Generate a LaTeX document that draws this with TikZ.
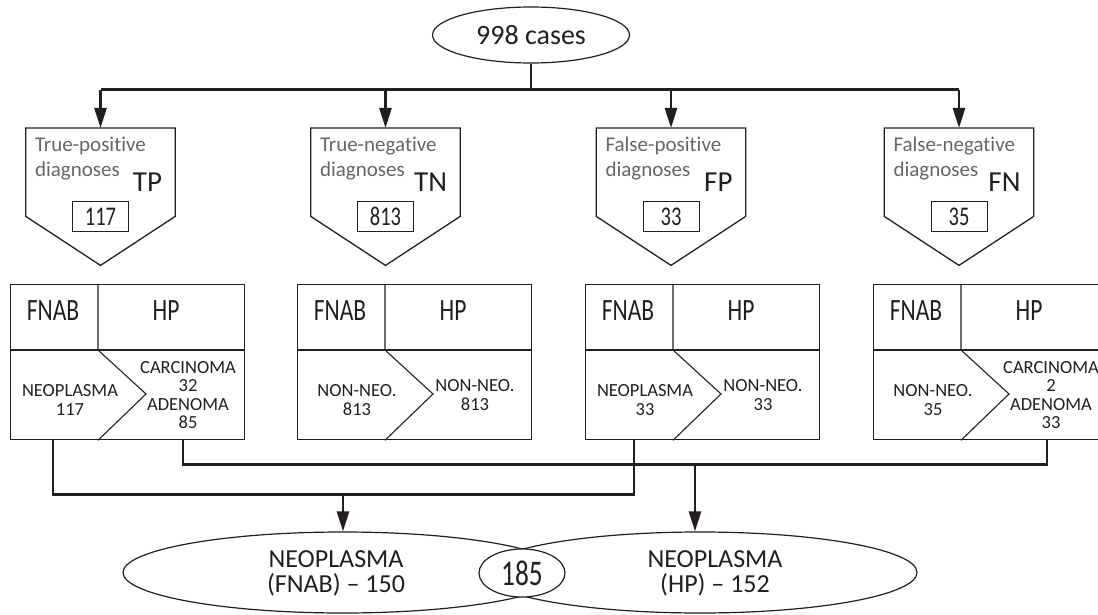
\documentclass[tikz,border=0pt]{standalone}
\usepackage{fontspec}
\setmainfont{Carlito}[Ligatures=NoCommon]
\newfontfamily\condfont{Carlito}[FakeStretch=0.76]
\usepackage{xcolor}
\usepackage{tikz}
\usetikzlibrary{shapes.geometric,arrows.meta,positioning,calc}
\definecolor{ink}{HTML}{231F20}
\definecolor{softgrey}{HTML}{666666}

\begin{document}
\begin{tikzpicture}[
    x=1pt, y=-1pt,
    every node/.style={text=ink},
    oval/.style={ellipse, draw=ink, line width=1.2pt, inner sep=0pt},
    pent/.style={rectangle, minimum width=149pt, minimum height=88pt, anchor=north, inner sep=0pt},
    pentline/.style={draw=ink, line width=1.3pt},
    tab/.style={rectangle, draw=ink, line width=1.3pt, minimum width=234pt, minimum height=155pt, anchor=north west, inner sep=0pt},
    tabline/.style={draw=ink, line width=1.1pt},
    numbox/.style={rectangle, draw=ink, line width=1pt, minimum width=56pt, minimum height=30pt, inner sep=0pt, font=\condfont\fontsize{27}{27}\selectfont},
    kind/.style={anchor=north west, align=left, inner sep=0pt, text=softgrey, font=\fontsize{21}{25}\selectfont},
    code/.style={anchor=base east, inner sep=0pt, font=\fontsize{29}{29}\selectfont},
    head/.style={inner sep=0pt, font=\condfont\fontsize{31}{31}\selectfont},
    cell/.style={inner sep=0pt, align=center, font=\fontsize{18.5}{18.5}\selectfont},
    big/.style={inner sep=0pt, align=center, font=\fontsize{26}{25}\selectfont},
    conn/.style={draw=ink, line width=2.6pt},
    arr/.style={conn, -{Triangle[length=20pt,width=12pt]}},
]
\useasboundingbox (0,0) rectangle (1098,615);
\clip (0,0) rectangle (1098,615);

% All cases
\node[oval, minimum width=197pt, minimum height=56pt, font=\fontsize{28}{28}\selectfont] (cases) at (531,35) {998 cases};

% Diagnosis groups
\node[pent] (tp) at (100.5,128) {};
\node[pent] (tn) at (385.5,128) {};
\node[pent] (fp) at (671,128) {};
\node[pent] (fn) at (959,128) {};

\draw[pentline] (tp.north west) -- (tp.north east) -- (tp.south east) -- ($(tp.south)+(0,49)$) -- (tp.south west) -- cycle;
\draw[pentline] (tn.north west) -- (tn.north east) -- (tn.south east) -- ($(tn.south)+(0,49)$) -- (tn.south west) -- cycle;
\draw[pentline] (fp.north west) -- (fp.north east) -- (fp.south east) -- ($(fp.south)+(0,49)$) -- (fp.south west) -- cycle;
\draw[pentline] (fn.north west) -- (fn.north east) -- (fn.south east) -- ($(fn.south)+(0,49)$) -- (fn.south west) -- cycle;

\node[kind] (tpname) at ($(tp.north west)+(9,9)$) {True-positive\\diagnoses};
\node[kind] (tnname) at ($(tn.north west)+(9,9)$) {True-negative\\diagnoses};
\node[kind] (fpname) at ($(fp.north west)+(9,9)$) {False-positive\\diagnoses};
\node[kind] (fnname) at ($(fn.north west)+(9,9)$) {False-negative\\diagnoses};

\node[code] (tpcode) at ($(tp.north east)+(-13,64)$) {TP};
\node[code] (tncode) at ($(tn.north east)+(-13,64)$) {TN};
\node[code] (fpcode) at ($(fp.north east)+(-13,64)$) {FP};
\node[code] (fncode) at ($(fn.north east)+(-13,64)$) {FN};

\node[numbox] (tpnum) at (tp.south) {117};
\node[numbox] (tnnum) at (tn.south) {813};
\node[numbox] (fpnum) at (fp.south) {33};
\node[numbox] (fnnum) at (fn.south) {35};

% FNAB / HP tables
\node[tab] (tpT) at (10,284) {};
\node[tab] (tnT) at (297,284) {};
\node[tab] (fpT) at (585,284) {};
\node[tab] (fnT) at (873,284) {};

\draw[tabline] ($(tpT.north west)+(0,66)$) -- ($(tpT.north east)+(0,66)$);
\draw[tabline] ($(tpT.north west)+(88,0)$) -- ($(tpT.north west)+(88,66)$) -- ($(tpT.north west)+(136,110)$) -- ($(tpT.south west)+(88,0)$);
\draw[tabline] ($(tnT.north west)+(0,66)$) -- ($(tnT.north east)+(0,66)$);
\draw[tabline] ($(tnT.north west)+(88,0)$) -- ($(tnT.north west)+(88,66)$) -- ($(tnT.north west)+(136,110)$) -- ($(tnT.south west)+(88,0)$);
\draw[tabline] ($(fpT.north west)+(0,66)$) -- ($(fpT.north east)+(0,66)$);
\draw[tabline] ($(fpT.north west)+(88,0)$) -- ($(fpT.north west)+(88,66)$) -- ($(fpT.north west)+(136,110)$) -- ($(fpT.south west)+(88,0)$);
\draw[tabline] ($(fnT.north west)+(0,66)$) -- ($(fnT.north east)+(0,66)$);
\draw[tabline] ($(fnT.north west)+(88,0)$) -- ($(fnT.north west)+(88,66)$) -- ($(fnT.north west)+(136,110)$) -- ($(fnT.south west)+(88,0)$);

\node[head] (tpfnab) at ($(tpT.north west)+(43,27)$) {FNAB};
\node[head] (tphp) at ($(tpT.north west)+(156,27)$) {HP};
\node[head] (tnfnab) at ($(tnT.north west)+(43,27)$) {FNAB};
\node[head] (tnhp) at ($(tnT.north west)+(156,27)$) {HP};
\node[head] (fpfnab) at ($(fpT.north west)+(43,27)$) {FNAB};
\node[head] (fphp) at ($(fpT.north west)+(156,27)$) {HP};
\node[head] (fnfnab) at ($(fnT.north west)+(43,27)$) {FNAB};
\node[head] (fnhp) at ($(fnT.north west)+(156,27)$) {HP};

\node[cell] (tpcyto) at ($(tpT.north west)+(60,116)$) {NEOPLASMA\\117};
\node[cell] (tphist) at ($(tpT.north west)+(178,111)$) {CARCINOMA\\32\\ADENOMA\\85};
\node[cell] (tncyto) at ($(tnT.north west)+(60,116)$) {NON-NEO.\\813};
\node[cell] (tnhist) at ($(tnT.north west)+(178,111)$) {NON-NEO.\\813};
\node[cell] (fpcyto) at ($(fpT.north west)+(60,116)$) {NEOPLASMA\\33};
\node[cell] (fphist) at ($(fpT.north west)+(178,111)$) {NON-NEO.\\33};
\node[cell] (fncyto) at ($(fnT.north west)+(60,116)$) {NON-NEO.\\35};
\node[cell] (fnhist) at ($(fnT.north west)+(178,111)$) {CARCINOMA\\2\\ADENOMA\\33};

% Neoplasma totals
\node[oval, minimum width=440pt, minimum height=81pt] (fnab) at (343,572.5) {};
\node[oval, minimum width=434pt, minimum height=81pt] (hp) at (700,572.5) {};
\node[oval, fill=white, minimum width=86pt, minimum height=48pt, font=\condfont\fontsize{36}{36}\selectfont] (both) at (522,573) {185};
\node[big] (fnabtxt) at (336,573) {NEOPLASMA\\(FNAB) \textendash{} 150};
\node[big] (hptxt) at (715,573) {NEOPLASMA\\(HP) \textendash{} 152};

% Arrows
\draw[conn] (cases.south) -- ++(0,26) coordinate (topbar);
\draw[conn] (topbar -| tp.north) -- (topbar -| fn.north);
\draw[arr] (topbar -| tp.north) -- (tp.north);
\draw[arr] (topbar -| tn.north) -- (tn.north);
\draw[arr] (topbar -| fp.north) -- (fp.north);
\draw[arr] (topbar -| fn.north) -- (fn.north);

\draw[conn] ($(tpT.south west)+(43,0)$) -- ++(0,54) coordinate (lowbar) -| ($(fpT.south west)+(49,0)$);
\draw[conn] ($(tpT.south west)+(173,0)$) -- ++(0,24) coordinate (highbar) -| ($(fnT.south west)+(174,0)$);
\coordinate (hptop) at ($(hp.north)+(-5,0)$);
\draw[arr] (fnab.north |- lowbar) -- (fnab.north);
\draw[arr] (hptop |- highbar) -- (hptop);

\end{tikzpicture}
\end{document}
